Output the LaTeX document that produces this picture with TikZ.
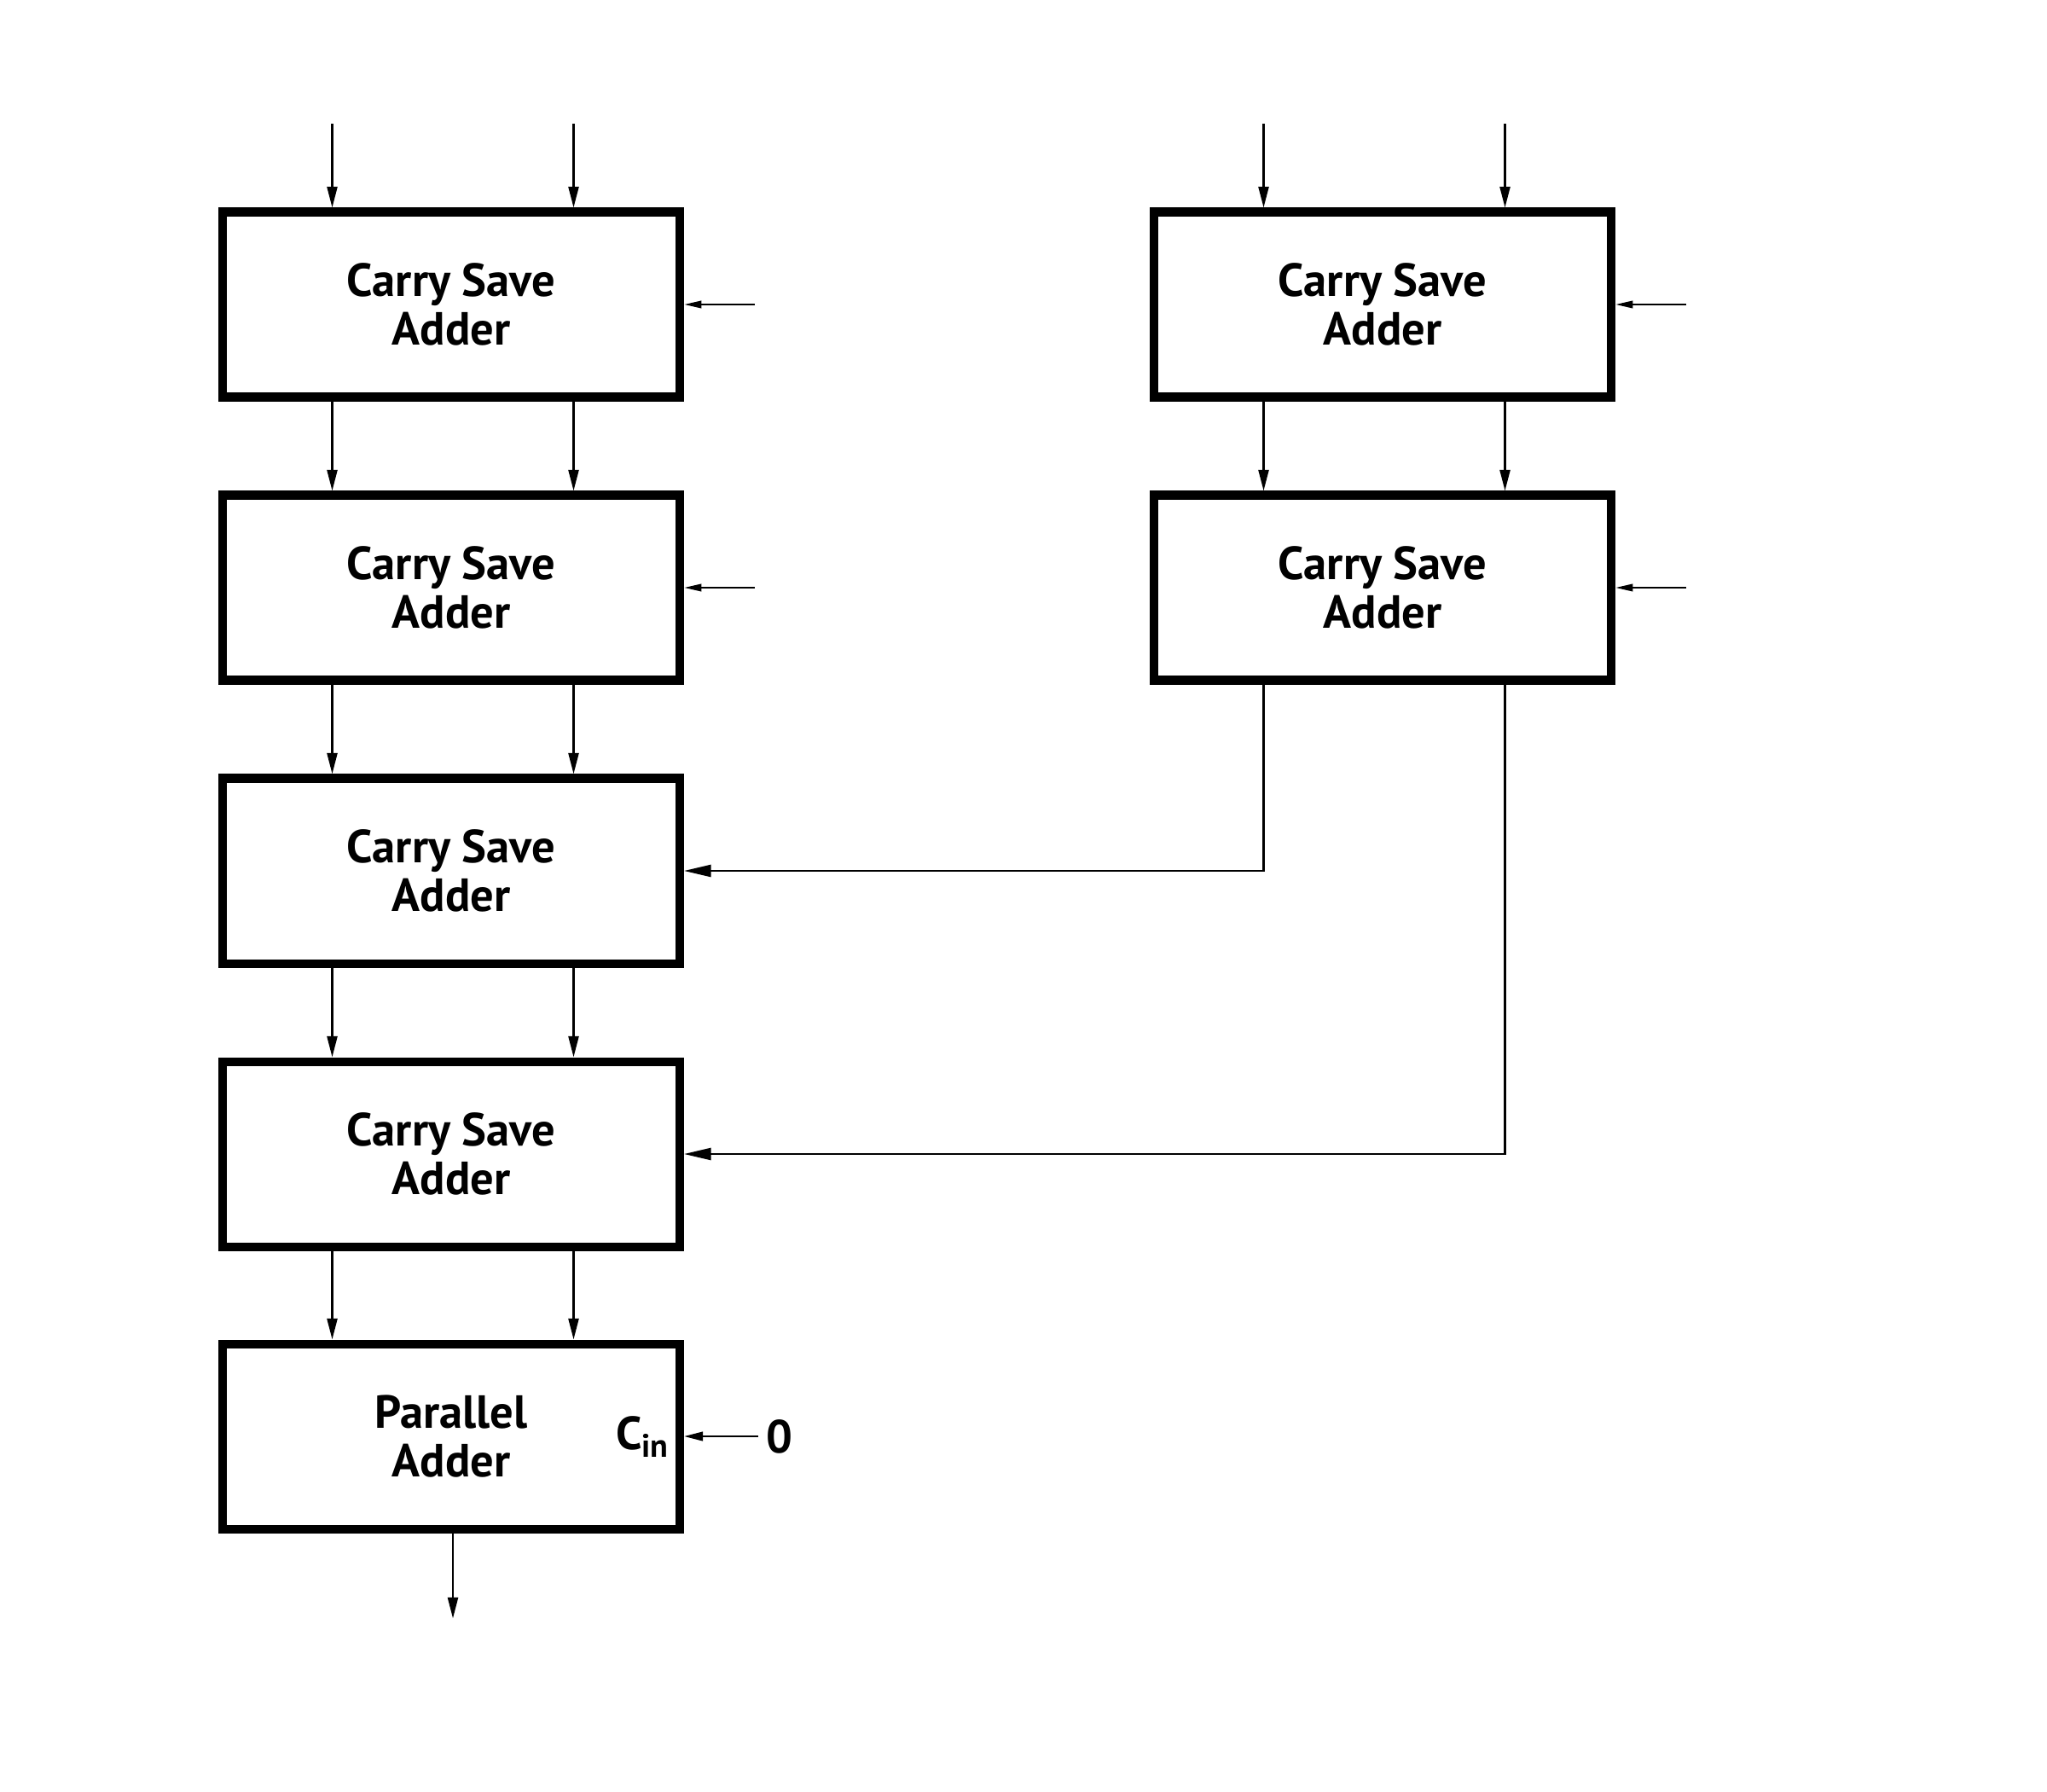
\documentclass[tikz,border=0pt]{standalone}
\usepackage{fontspec}
\setmainfont{PT Sans}
\usetikzlibrary{arrows.meta}

\tikzset{
  adder/.style = {draw, line width = 2.85pt, minimum width = 5.36cm, minimum height = 2.17cm,
    align = center, font = \fontsize{15.5}{16.2}\selectfont\bfseries},
  label/.style = {font = \fontsize{15.5}{16.2}\selectfont\bfseries},
  wire/.style = {line width = 0.7pt},
  bus/.style = {wire, -{Triangle[length = 7pt, width = 3.4pt]}},
  side/.style = {wire, -{Triangle[length = 5.8pt, width = 2.4pt]}},
  feed/.style = {wire, -{Triangle[length = 9pt, width = 4pt]}},
  carry/.style = {wire, -{Triangle[length = 6.3pt, width = 3pt]}}
}

\begin{document}
\begin{tikzpicture} [scale = 1]
\useasboundingbox (0, 0) rectangle (24, 21);
% left column
\node[adder] (csa1) at (5.29, 17.43) {Carry Save\\Adder};
\node[adder] (csa2) at (5.29, 14.11) {Carry Save\\Adder};
\node[adder] (csa3) at (5.29, 10.79) {Carry Save\\Adder};
\node[adder] (csa4) at (5.29, 7.47) {Carry Save\\Adder};
\node[adder] (pa) at (5.29, 4.16) {Parallel\\Adder};
% right column
\node[adder] (csb1) at (16.21, 17.43) {Carry Save\\Adder};
\node[adder] (csb2) at (16.21, 14.11) {Carry Save\\Adder};
% inputs from above
\foreach \b in {csa1, csb1} {
  \coordinate (\b-l) at ([xshift = -1.395cm, yshift = 0.98cm]\b.north);
  \coordinate (\b-r) at ([xshift = 1.435cm, yshift = 0.98cm]\b.north);
  \draw[bus] (\b-l) -- ([xshift = -1.395cm]\b.north);
  \draw[bus] (\b-r) -- ([xshift = 1.435cm]\b.north);
}
% inputs from the side
\foreach \b in {csa1, csa2, csb1, csb2} {
  \coordinate (\b-in) at ([xshift = 0.83cm]\b.east);
  \draw[side] (\b-in) -- (\b.east);
}
% sum and carry between stages
\foreach \u/\v in {csa1/csa2, csa2/csa3, csa3/csa4, csa4/pa, csb1/csb2} {
  \draw[bus] ([xshift = -1.395cm]\u.south) -- ([xshift = -1.395cm]\v.north);
  \draw[bus] ([xshift = 1.435cm]\u.south) -- ([xshift = 1.435cm]\v.north);
}
\draw[feed] ([xshift = -1.395cm]csb2.south) |- (csa3.east);
\draw[feed] ([xshift = 1.435cm]csb2.south) |- (csa4.east);
% carry in and result
\node[label, anchor = base east, inner xsep = 0pt] (cin) at ([xshift = -0.16cm, yshift = -0.15cm]pa.east) {C\textsubscript{in}};
\node[label, inner sep = 2.5pt] (zero) at (9.14, 4.16) {0};
\draw[carry] (zero.west) -- (pa.east);
\coordinate (out) at ([yshift = -1.0cm, xshift = 0.02cm]pa.south);
\draw[bus] ([xshift = 0.02cm]pa.south) -- (out);
\end{tikzpicture}
\end{document}
